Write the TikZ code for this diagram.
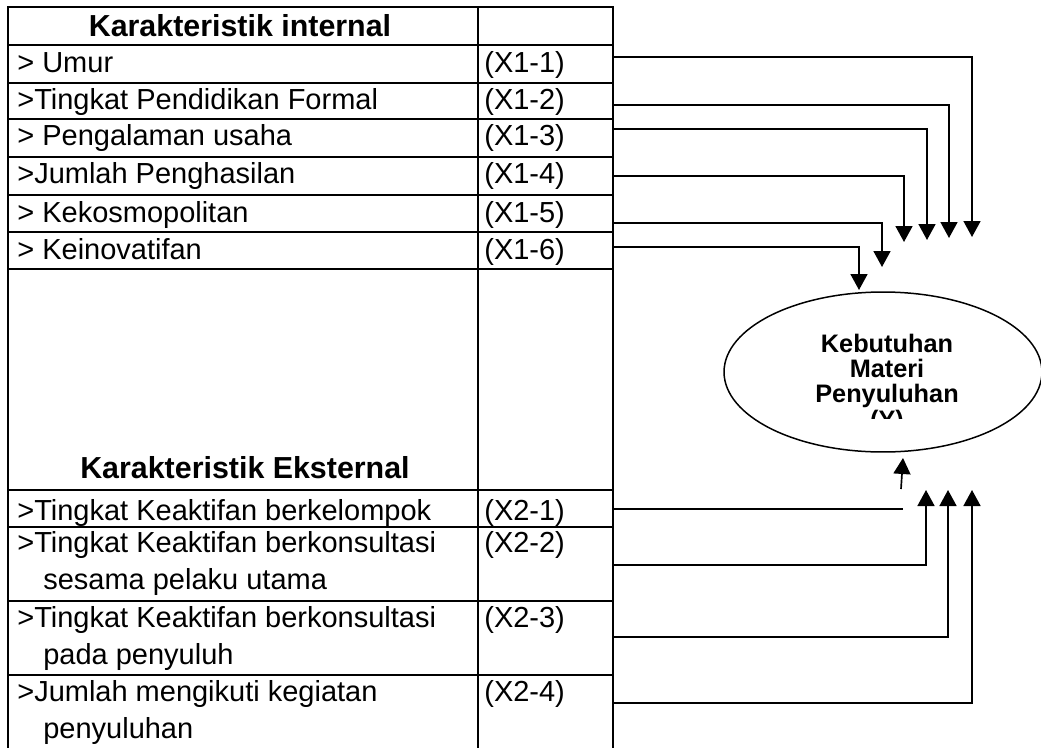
\documentclass[tikz,border=0pt]{standalone}
\usepackage{fontspec}
\setmainfont{Liberation Sans}
\usetikzlibrary{arrows.meta,shapes.geometric}

\begin{document}
\begin{tikzpicture}[x=0.02cm,y=-0.02cm,
  grid/.style={line width=1.25pt,line cap=rect},
  cell/.style={anchor=base west,inner sep=0pt,font=\fontsize{16.5}{20}\selectfont},
  head/.style={anchor=base,inner sep=0pt,font=\fontsize{17.3}{20}\selectfont\bfseries},
  link/.style={line width=0.95pt},
  tip/.style={link,-{Triangle[width=0.34cm,length=0.32cm]}}]
  \useasboundingbox (0,0) rectangle (1041,747);
  \clip (0,0) rectangle (1041,747);
  % table
  \draw[grid] (8,7) -- (8,747) (478,7) -- (478,747) (613,7) -- (613,747);
  \foreach \y in {7,45,83,119,157,195,232,269,490,527,601,675}{\draw[grid] (8,\y) -- (613,\y);}
  \node[head] (hin) at (240,36) {Karakteristik internal};
  \node[head] (hex) at (245,478) {Karakteristik Eksternal};
  % internal rows
  \foreach \n/\y/\t in {1/72/{> Umur},2/109/{>Tingkat Pendidikan Formal},3/145/{> Pengalaman usaha},
                        4/183/{>Jumlah Penghasilan},5/222/{> Kekosmopolitan},6/259/{> Keinovatifan}}{
    \node[cell] (in\n) at (17,\y) {\t};
    \node[cell] (kin\n) at (484,\y) {(X1-\n)};
  }
  % external rows
  \foreach \n/\y/\t in {1/520/{>Tingkat Keaktifan berkelompok},2/552/{>Tingkat Keaktifan berkonsultasi},
                        3/627/{>Tingkat Keaktifan berkonsultasi},4/701/{>Jumlah mengikuti kegiatan}}{
    \node[cell] (ex\n) at (17,\y) {\t};
    \node[cell] (kex\n) at (484,\y) {(X2-\n)};
  }
  \node[cell] (ex2b) at (43,589) {sesama pelaku utama};
  \node[cell] (ex3b) at (43,664) {pada penyuluh};
  \node[cell] (ex4b) at (43,738) {penyuluhan};
  % Y
  \node[draw,ellipse,line width=0.85pt,minimum width=6.36cm,minimum height=3.2cm,inner sep=0pt] (keb) at (883,372) {};
  \begin{scope}
    \clip (720,292) rectangle (1041,418);
    \foreach \n/\y/\t in {1/352/Kebutuhan,2/377/Materi,3/402/Penyuluhan,4/428/{(Y)}}{
      \node[anchor=base,inner sep=0pt,font=\fontsize{14.4}{16}\selectfont\bfseries] (ky\n) at (887,\y) {\t};
    }
  \end{scope}
  % X1 -> Y
  \foreach \n/\y/\x/\e in {1/57/972/237,2/105/949/238,3/129/927/240,4/176/904/242,5/223/882/267,6/247/859/290}{
    \coordinate (s1\n) at (613,\y);
    \coordinate (t1\n) at (\x,\e);
    \draw[tip] (s1\n) -| (t1\n);
  }
  % X2 -> Y
  \coordinate (s21) at (613,509);
  \coordinate (e21) at (903,509);
  \draw[link] (s21) -- (e21);
  \coordinate (u0) at (901,489);
  \coordinate (u1) at (903,458);
  \draw[tip] (u0) -- (u1);
  \foreach \n/\y/\x in {2/565/926,3/637/948,4/703/972}{
    \coordinate (s2\n) at (613,\y);
    \coordinate (t2\n) at (\x,490);
    \draw[tip] (s2\n) -| (t2\n);
  }
\end{tikzpicture}
\end{document}
